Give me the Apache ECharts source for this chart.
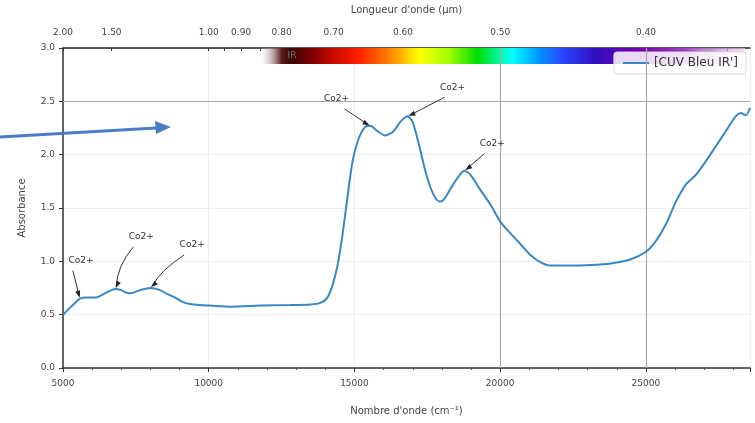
<!DOCTYPE html>
<html>
<head>
<meta charset="utf-8">
<script src="https://cdn.jsdelivr.net/npm/echarts@6/dist/echarts.min.js"></script>
<style>
  html, body { margin: 0; padding: 0; background: #fff; }
  #chart { width: 755px; height: 423px; }
</style>
</head>
<body>
<div id="chart"></div>
<script>
// Absorption spectrum of the cobalt blue sample
const wavenumber = [5000, 5300, 5580, 5800, 6100, 6440, 6790, 7000, 7130, 7300, 7650, 7990, 8330, 8600, 8850, 9100, 9360, 9700, 10050, 10740, 11770, 12800, 13490, 13830, 14070, 14240, 14410, 14580, 14760, 14930, 15130, 15370, 15550, 15790, 16060, 16340, 16580, 16820, 16990, 17200, 17400, 17610, 17810, 17950, 18120, 18360, 18640, 18770, 18980, 19320, 19670, 20010, 20360, 20700, 21040, 21390, 21730, 22420, 23100, 23790, 24480, 25000, 25340, 25690, 26030, 26370, 26710, 27060, 27400, 27740, 28080, 28260, 28430, 28571];
const absorbance = [0.50, 0.58, 0.65, 0.66, 0.66, 0.70, 0.74, 0.73, 0.71, 0.70, 0.73, 0.75, 0.73, 0.69, 0.66, 0.62, 0.60, 0.59, 0.585, 0.575, 0.585, 0.59, 0.595, 0.61, 0.66, 0.77, 0.95, 1.23, 1.60, 1.93, 2.14, 2.26, 2.27, 2.22, 2.18, 2.22, 2.31, 2.36, 2.31, 2.11, 1.88, 1.69, 1.58, 1.56, 1.60, 1.71, 1.82, 1.85, 1.81, 1.67, 1.53, 1.37, 1.26, 1.16, 1.06, 0.99, 0.96, 0.96, 0.965, 0.98, 1.02, 1.09, 1.19, 1.35, 1.56, 1.72, 1.81, 1.94, 2.08, 2.22, 2.36, 2.39, 2.37, 2.44];

const seriesName = "[CUV Bleu IR']";

// Wavelength axis (µm) on top, placed at 10000 / λ in cm⁻¹
const wavelengthLabels = [2.00, 1.50, 1.00, 0.90, 0.80, 0.70, 0.60, 0.50, 0.40];
const wavelengthMinor = [0.95, 0.85, 0.75, 0.65, 0.55, 0.45, 0.36];

// Absorption bands annotated "Co2+": band position (cm⁻¹) and label offset (px)
const bandPositions = [5650, 6790, 7990, 15550, 16820, 18770];
const bandLabelOffsets = [[1, -38], [26, -52], [42, -43], [-34, -27], [45, -29], [28, -27]];
const bandLabel = 'Co2+';

const xMin = 5000, xMax = 28571;
const FONT = 'DejaVu Sans';
const TXT = '#444';

const toWn = um => 10000 / um;

const chart = echarts.init(document.getElementById('chart'));

chart.setOption({
  animation: false,
  backgroundColor: '#fff',
  grid: { left: 63, right: 5, top: 44, bottom: 55 },
  legend: {
    data: [seriesName],
    top: 52, right: 9,
    itemWidth: 26, itemHeight: 3, itemGap: 10,
    padding: [5, 8],
    backgroundColor: 'rgba(255,255,255,0.85)',
    borderColor: '#ddd', borderWidth: 1, borderRadius: 3,
    textStyle: { fontFamily: FONT, fontSize: 12, color: '#333' }
  },
  xAxis: [
    {
      type: 'value', min: xMin, max: xMax, interval: 5000,
      name: "Nombre d'onde (cm⁻¹)", nameLocation: 'middle', nameGap: 38,
      nameTextStyle: { fontFamily: FONT, fontSize: 10, color: TXT },
      axisLine: { lineStyle: { color: '#333', width: 1.5 } },
      axisTick: { lineStyle: { color: '#333' }, length: 4 },
      minorTick: { show: true, splitNumber: 5, length: 2, lineStyle: { color: '#555' } },
      axisLabel: {
        fontFamily: FONT, fontSize: 9, color: TXT, margin: 11,
        showMaxLabel: false,
        formatter: v => (v % 5000 === 0 ? String(v) : '')
      },
      splitLine: { show: true, lineStyle: { color: '#eee', width: 1 } }
    },
    {
      type: 'value', min: xMin, max: xMax, position: 'top',
      name: "Longueur d'onde (µm)", nameLocation: 'middle', nameGap: 33,
      nameTextStyle: { fontFamily: FONT, fontSize: 10, color: TXT },
      axisLine: { lineStyle: { color: '#222', width: 1.5 } },
      axisTick: {
        show: true, inside: true, length: 3, lineStyle: { color: '#333' },
        customValues: wavelengthLabels.concat(wavelengthMinor).map(toWn)
      },
      axisLabel: {
        fontFamily: FONT, fontSize: 9, color: TXT, margin: 11,
        customValues: wavelengthLabels.map(toWn),
        formatter: v => (10000 / v).toFixed(2)
      },
      splitLine: { show: false }
    }
  ],
  yAxis: {
    type: 'value', min: 0, max: 3, interval: 0.5,
    name: 'Absorbance', nameLocation: 'middle', nameGap: 36, nameRotate: 90,
    nameTextStyle: { fontFamily: FONT, fontSize: 10, color: TXT },
    axisLine: { show: true, lineStyle: { color: '#333', width: 1.5 } },
    axisTick: { show: true, length: 4, lineStyle: { color: '#333' } },
    axisLabel: { fontFamily: FONT, fontSize: 9, color: TXT, margin: 8, formatter: v => v.toFixed(1) },
    splitLine: { show: true, lineStyle: { color: '#eee', width: 1 } }
  },
  series: [{
    name: seriesName,
    type: 'line',
    xAxisIndex: 0,
    data: wavenumber.map((w, i) => [w, absorbance[i]]),
    symbol: 'none',
    smooth: 0.25,
    lineStyle: { color: '#3a87c6', width: 2 },
    itemStyle: { color: '#3a87c6' },
    z: 5,
    markLine: {
      silent: true, symbol: 'none', label: { show: false },
      lineStyle: { color: '#aaa', type: 'solid', width: 1.2 },
      data: [{ xAxis: 20000 }, { xAxis: 25000 }, { yAxis: 2.5 }]
    }
  }]
});

// Overlays: visible spectrum band under the top axis, band annotations, pointer arrow
function drawOverlays() {
  const px = (x, y) => chart.convertToPixel({ xAxisIndex: 0, yAxisIndex: 0 }, [x, y]);
  const yTop = px(xMin, 3)[1];
  const xAt = um => px(toWn(um), 0)[0];

  const x0 = xAt(0.855), x1 = xAt(0.352);
  const stopsUm = [
    [0.855, 'rgba(255,255,255,0)'], [0.80, '#5a1c1c'], [0.78, '#3a0505'], [0.74, '#7a0000'],
    [0.70, '#cc0a00'], [0.66, '#ff2000'], [0.62, '#ff7a00'], [0.58, '#ffff00'],
    [0.55, '#a8ff00'], [0.52, '#00e000'], [0.49, '#00ffff'], [0.47, '#0098ff'],
    [0.45, '#2a40ff'], [0.43, '#3010c0'], [0.40, '#8000b0'], [0.38, '#a040c0'],
    [0.352, 'rgba(235,210,240,0.6)']
  ];
  const colorStops = stopsUm.map(([um, c]) => ({ offset: (xAt(um) - x0) / (x1 - x0), color: c }));

  const graphics = [
    {
      type: 'rect', z: 1, silent: true,
      shape: { x: x0, y: yTop, width: x1 - x0, height: 16 },
      style: { fill: new echarts.graphic.LinearGradient(0, 0, 1, 0, colorStops) }
    },
    { type: 'text', z: 2, x: xAt(0.80) + 6, y: yTop + 3,
      style: { text: 'IR', font: '9px ' + FONT, fill: '#777' } },
    { type: 'text', z: 2, x: xAt(0.37), y: yTop + 1,
      style: { text: 'UV', font: '7px ' + FONT, fill: '#999' } }
  ];

  bandPositions.forEach((w, k) => {
    const i = wavenumber.indexOf(w) >= 0 ? wavenumber.indexOf(w)
      : wavenumber.reduce((b, v, j) => Math.abs(v - w) < Math.abs(wavenumber[b] - w) ? j : b, 0);
    const tip = px(wavenumber[i], absorbance[i]);
    const [dx, dy] = bandLabelOffsets[k];
    const tx = tip[0] + dx, ty = tip[1] + dy;
    const sx = tx - Math.sign(dx) * 8, sy = ty + 10;
    const ang = Math.atan2(tip[1] - 3 - sy, tip[0] - sx);
    const ex = tip[0] - 3 * Math.cos(ang), ey = tip[1] - 3 * Math.sin(ang);
    const cx = (sx + ex) / 2 - (dx > 10 && dy < -35 ? 8 : 0), cy = (sy + ey) / 2;
    graphics.push(
      { type: 'text', z: 10, x: tx, y: ty,
        style: { text: bandLabel, font: '9px ' + FONT, fill: '#333', align: 'center', verticalAlign: 'middle' } },
      { type: 'bezierCurve', z: 10, silent: true,
        shape: { x1: sx, y1: sy, x2: ex, y2: ey, cpx1: cx, cpy1: cy },
        style: { stroke: '#333', lineWidth: 1, fill: null } },
      { type: 'polygon', z: 10, silent: true,
        shape: { points: [
          [ex + 2 * Math.cos(ang), ey + 2 * Math.sin(ang)],
          [ex - 5 * Math.cos(ang) - 2.5 * Math.sin(ang), ey - 5 * Math.sin(ang) + 2.5 * Math.cos(ang)],
          [ex - 5 * Math.cos(ang) + 2.5 * Math.sin(ang), ey - 5 * Math.sin(ang) - 2.5 * Math.cos(ang)]
        ] },
        style: { fill: '#222' } }
    );
  });

  // Blue pointer arrow entering from the left margin
  graphics.push(
    { type: 'line', z: 20, silent: true,
      shape: { x1: 0, y1: 137, x2: 156, y2: 128 },
      style: { stroke: '#4a7cc6', lineWidth: 3 } },
    { type: 'polygon', z: 20, silent: true,
      shape: { points: [[171, 127], [155, 121], [156, 134]] },
      style: { fill: '#4a7cc6' } }
  );

  chart.setOption({ graphic: graphics });
}
drawOverlays();
</script>
</body>
</html>
